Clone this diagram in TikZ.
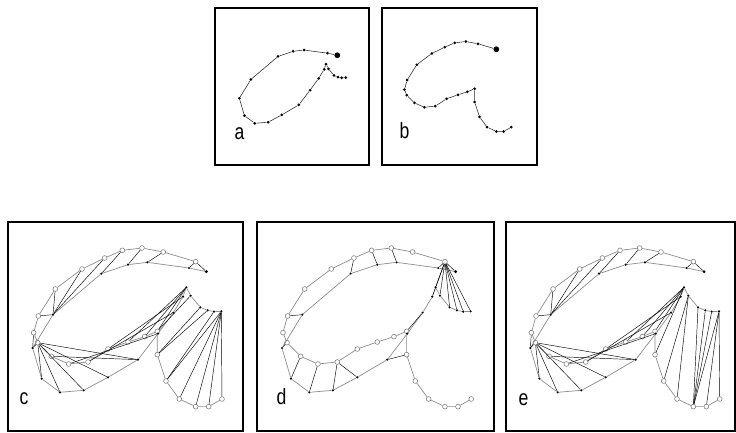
\documentclass[tikz,border=0pt]{standalone}
\usepackage{fontspec}
\setmainfont{Liberation Sans}
% sampled points of the two curves (a: filled dots, b: open circles)
\def\ptsA{601/161, 549/150, 424/133, 366/140, 286/167, 141/290, 80/390,
  107/482, 162/523, 233/517, 306/478, 396/425, 456/347, 502/284, 531/236,
  541/208, 554/233, 583/268, 605/277, 624/281, 646/280}
\def\ptsB{569/131, 472/102, 408/90, 349/97, 296/120, 228/153, 148/213,
  97/294, 83/344, 95/374, 136/415, 188/438, 246/432, 306/393, 366/372,
  416/356, 454/340, 454/410, 480/489, 520/543, 569/566, 608/566, 648/543}
\tikzset{
  panel/.style = {line width=2pt},
  tag/.style = {anchor=base west, inner sep=0pt, font=\fontsize{22}{22}\selectfont},
  dotA/.style = {circle, fill=black, inner sep=0pt, minimum size=2.4pt},
  dotB/.style = {circle, draw=black!55, fill=white, line width=.5pt, inner sep=0pt, minimum size=4.8pt},
  startA/.style = {minimum size=3.2pt},
  startB/.style = {},
  lineA/.style = {black!45, line width=.7pt},
  lineB/.style = {black!45, line width=.7pt},
  match/.style = {black, line width=.45pt},
  plain/.style = {
    dotA/.style = {circle, fill=black, inner sep=0pt, minimum size=3pt},
    dotB/.style = {circle, fill=black, inner sep=0pt, minimum size=3pt},
    startA/.style = {minimum size=5.8pt},
    startB/.style = {minimum size=5.8pt},
    lineA/.style = {black!85, line width=.55pt},
    lineB/.style = {black!85, line width=.55pt}
  },
  pics/shapeA/.style = {
    code = {
      \foreach \x/\y [count=\i] in \ptsA {
        \ifnum\i=1 \node[dotA, startA] (-a\i) at (\x,\y) {};
        \else \node[dotA] (-a\i) at (\x,\y) {}; \fi
      }
      \foreach \i [remember=\i as \j (initially 1)] in {2,...,21}
        \draw[lineA] (-a\j) -- (-a\i);
    }
  },
  pics/shapeB/.style = {
    code = {
      \foreach \x/\y [count=\i] in \ptsB {
        \ifnum\i=1 \node[dotB, startB] (-b\i) at (\x,\y) {};
        \else \node[dotB] (-b\i) at (\x,\y) {}; \fi
      }
      \foreach \i [remember=\i as \j (initially 1)] in {2,...,23}
        \draw[lineB] (-b\j) -- (-b\i);
    }
  }
}
\begin{document}
\begin{tikzpicture}[x=1pt, y=-1pt]
  \useasboundingbox (0,0) rectangle (736,433);

  % top row: the two curves alone
  \draw[panel] (215,8.5) rectangle (368.5,164.5);
  \draw[panel] (381.5,8.5) rectangle (536.5,164.5);
  \pic[scale=.188, plain] (pa) at (224.3,25) {shapeA};
  \pic[scale=.189, plain] (pb) at (388.8,24.5) {shapeB};
  \node[tag] (ta) at (234.5,139.7) {\scalebox{.8}[1]{a}};
  \node[tag] (tb) at (399.5,139) {\scalebox{.8}[1]{b}};

  % bottom row: curves overlaid with their matchings
  \draw[panel] (8.3,222.3) rectangle (243,431);
  \draw[panel] (256.5,222.3) rectangle (494,431);
  \draw[panel] (506,222.3) rectangle (735,431);

  % c
  \pic[scale=.3333] (c) at (6,218) {shapeB};
  \pic[scale=.3333] (c) at (6,218) {shapeA};
  \foreach \p/\q in {1/1, 1/2, 2/3, 3/4, 4/5, 5/6, 6/6, 7/6, 8/6, 9/7, 10/7,
      10/8, 10/9, 10/10, 10/11, 10/12, 11/12, 12/13, 13/14, 14/15, 15/16,
      16/16, 17/16, 17/17, 18/18, 18/19, 19/20, 19/21, 20/21, 21/21, 22/21, 23/21}
    \draw[match] (c-b\p) -- (c-a\q);
  \node[tag] (tc) at (19.5,404.7) {\scalebox{.8}[1]{c}};

  % d
  \pic[scale=.3333] (d) at (255.3,218) {shapeB};
  \pic[scale=.3333] (d) at (255.3,218) {shapeA};
  \foreach \p/\q in {1/1, 1/2, 1/15, 1/16, 1/17, 1/18, 1/19, 1/20, 1/21,
      3/3, 4/4, 5/5, 8/6, 10/7, 11/8, 12/9, 13/10, 13/11, 17/14, 18/12}
    \draw[match] (d-b\p) -- (d-a\q);
  \node[tag] (td) at (276.5,404.7) {\scalebox{.8}[1]{d}};

  % e
  \pic[scale=.3333] (e) at (503.7,218) {shapeB};
  \pic[scale=.3333] (e) at (503.7,218) {shapeA};
  \foreach \p/\q in {1/1, 1/2, 2/3, 3/4, 4/5, 5/6, 6/6, 7/6, 8/6, 9/7, 10/7,
      10/8, 10/9, 10/10, 10/11, 10/12, 11/12, 12/13, 13/14, 14/15, 15/16,
      16/16, 17/16, 18/16, 19/17, 20/17, 21/18, 21/19, 21/20, 21/21, 22/21, 23/21}
    \draw[match] (e-b\p) -- (e-a\q);
  \node[tag] (te) at (518.5,405.3) {\scalebox{.8}[1]{e}};
\end{tikzpicture}
\end{document}
